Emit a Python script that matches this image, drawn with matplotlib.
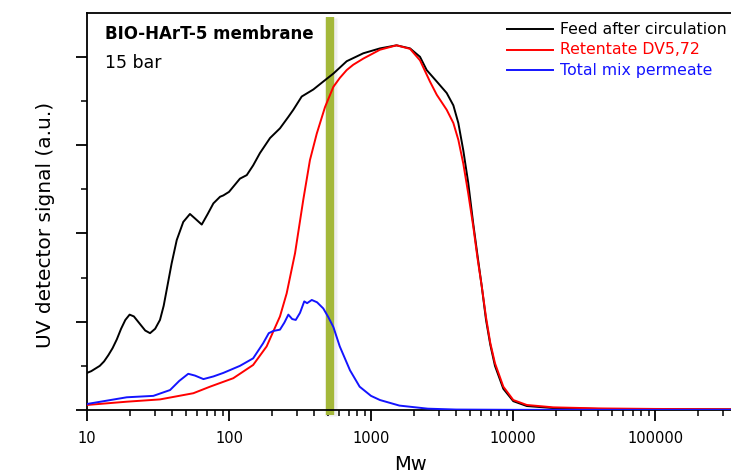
import numpy as np
import matplotlib
matplotlib.use("Agg")
import matplotlib.pyplot as plt
from matplotlib.lines import Line2D
from matplotlib.ticker import FixedLocator, NullFormatter, LogLocator

# GPC traces: log10(Mw) and UV detector signal (arbitrary units)
log_mw_feed = [1.0, 1.03, 1.06, 1.09, 1.12, 1.15, 1.18, 1.21, 1.24, 1.27, 1.30, 1.33,
               1.37, 1.41, 1.444, 1.48, 1.514, 1.54, 1.561, 1.596, 1.632, 1.678, 1.725,
               1.76, 1.808, 1.85, 1.89, 1.937, 1.96, 2.0, 2.077, 2.125, 2.17, 2.218,
               2.289, 2.359, 2.418, 2.453, 2.512, 2.594, 2.664, 2.735, 2.829, 2.946,
               3.063, 3.18, 3.275, 3.345, 3.392, 3.463, 3.533, 3.58, 3.615, 3.65, 3.685,
               3.72, 3.75, 3.78, 3.81, 3.84, 3.873, 3.932, 4.002, 4.097, 4.284, 4.6,
               5.0, 5.6]
feed = [0.42, 0.44, 0.47, 0.50, 0.55, 0.62, 0.70, 0.80, 0.92, 1.02, 1.08, 1.06,
        0.98, 0.90, 0.87, 0.92, 1.02, 1.18, 1.36, 1.66, 1.925, 2.13, 2.22,
        2.17, 2.10, 2.22, 2.34, 2.415, 2.43, 2.47, 2.62, 2.66, 2.77, 2.91,
        3.08, 3.19, 3.32, 3.40, 3.55, 3.63, 3.72, 3.81, 3.95, 4.04,
        4.095, 4.13, 4.095, 4.00, 3.85, 3.72, 3.59, 3.45, 3.25, 2.94, 2.57,
        2.11, 1.75, 1.40, 1.02, 0.74, 0.50, 0.24, 0.10, 0.045, 0.022, 0.012,
        0.008, 0.006]

log_mw_retentate = [1.0, 1.28, 1.514, 1.749, 1.866, 2.03, 2.17, 2.265, 2.359, 2.406,
                    2.465, 2.523, 2.57, 2.618, 2.676, 2.735, 2.78, 2.829, 2.875, 2.946,
                    3.063, 3.18, 3.275, 3.345, 3.415, 3.463, 3.533, 3.58, 3.615, 3.65,
                    3.685, 3.72, 3.75, 3.78, 3.81, 3.84, 3.873, 3.932, 4.002, 4.097,
                    4.284, 4.6, 5.0, 5.6]
retentate = [0.057, 0.094, 0.12, 0.19, 0.264, 0.36, 0.51, 0.72, 1.06, 1.32,
             1.775, 2.38, 2.83, 3.13, 3.43, 3.66, 3.76, 3.85, 3.91, 3.98,
             4.08, 4.13, 4.09, 3.96, 3.72, 3.57, 3.40, 3.25, 3.06, 2.79,
             2.45, 2.08, 1.72, 1.40, 1.05, 0.76, 0.53, 0.264, 0.113, 0.057,
             0.03, 0.018, 0.012, 0.008]

log_mw_permeate = [1.0, 1.28, 1.467, 1.585, 1.65, 1.713, 1.76, 1.82, 1.89, 1.96, 2.077,
                   2.17, 2.24, 2.28, 2.312, 2.359, 2.39, 2.418, 2.445, 2.47, 2.50, 2.53,
                   2.55, 2.583, 2.62, 2.664, 2.70, 2.735, 2.78, 2.852, 2.92, 3.0, 3.063,
                   3.2, 3.4, 3.6, 4.0, 5.6]
permeate = [0.068, 0.144, 0.16, 0.226, 0.33, 0.41, 0.39, 0.35, 0.38, 0.42, 0.50,
            0.585, 0.755, 0.87, 0.895, 0.91, 0.99, 1.08, 1.03, 1.02, 1.10, 1.23,
            1.21, 1.246, 1.22, 1.15, 1.05, 0.94, 0.72, 0.45, 0.264, 0.16, 0.113,
            0.05, 0.015, 0.005, 0.002, 0.002]

series_labels = ["Feed after circulation", "Retentate DV5,72", "Total mix permeate"]
series_colors = ["#000000", "#ff0000", "#1414ff"]
cutoff_mw = 515
x_tick_values = [10, 100, 1000, 10000, 100000]
x_tick_labels = ["10", "100", "1000", "10000", "100000"]

W, H = 731, 474
fig = plt.figure(figsize=(W / 100, H / 100), dpi=100)
ax_left, ax_bottom, ax_top = 87, 410, 13
px_per_decade = 142.0
x_min, x_max = 10, 1e6
ax_w = np.log10(x_max / x_min) * px_per_decade
ax = fig.add_axes([ax_left / W, (H - ax_bottom) / H, ax_w / W, (ax_bottom - ax_top) / H])

ax.set_xscale("log")
ax.set_xlim(x_min, x_max)
ax.set_ylim(0, (ax_bottom - ax_top) / 88.3)

# molecular weight cut-off band with a soft shadow
band_tr = ax.get_xaxis_transform()
for lw, alpha in [(9.5, 0.06), (8.0, 0.08)]:
    ax.plot([cutoff_mw * 1.01, cutoff_mw * 1.01], [-0.014, 0.988], transform=band_tr,
            color="#888888", lw=lw, alpha=alpha, clip_on=False, solid_capstyle="butt", zorder=1)
ax.plot([cutoff_mw, cutoff_mw], [-0.012, 0.99], transform=band_tr, color="#a4b83a",
        lw=6.0, clip_on=False, solid_capstyle="butt", zorder=2)

traces = [(log_mw_feed, feed), (log_mw_retentate, retentate), (log_mw_permeate, permeate)]
for (lm, val), col in zip(traces, series_colors):
    ax.plot(10 ** np.asarray(lm), val, color=col, lw=1.4, zorder=3)

ax.spines["right"].set_visible(False)
for side in ["left", "bottom", "top"]:
    ax.spines[side].set_linewidth(1.3)

ax.xaxis.set_major_locator(FixedLocator(x_tick_values))
ax.set_xticklabels(x_tick_labels, fontsize=10.5, family="DejaVu Sans")
ax.xaxis.set_minor_locator(LogLocator(base=10, subs=np.arange(2, 10), numticks=20))
ax.xaxis.set_minor_formatter(NullFormatter())
ax.set_yticks([0, 1, 2, 3, 4])
ax.set_yticks([0.5, 1.5, 2.5, 3.5], minor=True)
ax.set_yticklabels([])
ax.tick_params(axis="both", which="major", direction="out", length=8, width=1.3, pad=7)
ax.tick_params(axis="both", which="minor", direction="out", length=4, width=1.1)

fig.text(46 / W, 1 - 225 / H, "UV detector signal (a.u.)", rotation=90, ha="center",
         va="center", fontsize=14.5, family="DejaVu Sans")
fig.text(411 / W, 1 - 455 / H, "Mw", ha="center", va="top", fontsize=14, family="DejaVu Sans")

fig.text(105 / W, 1 - 34 / H, "BIO-HArT-5 membrane", ha="left", va="center",
         fontsize=12, fontweight="bold", family="DejaVu Sans")
fig.text(105 / W, 1 - 63 / H, "15 bar", ha="left", va="center", fontsize=12.5,
         family="DejaVu Sans")

# legend entries
for i, (lab, col) in enumerate(zip(series_labels, series_colors)):
    y = 1 - (29 + 20.5 * i) / H
    fig.add_artist(Line2D([507 / W, 553 / W], [y, y], color=col, lw=1.4))
    fig.text(560 / W, y, lab, color=col, ha="left", va="center", fontsize=11.3,
             family="DejaVu Sans")

fig.savefig("out.png", dpi=100)
